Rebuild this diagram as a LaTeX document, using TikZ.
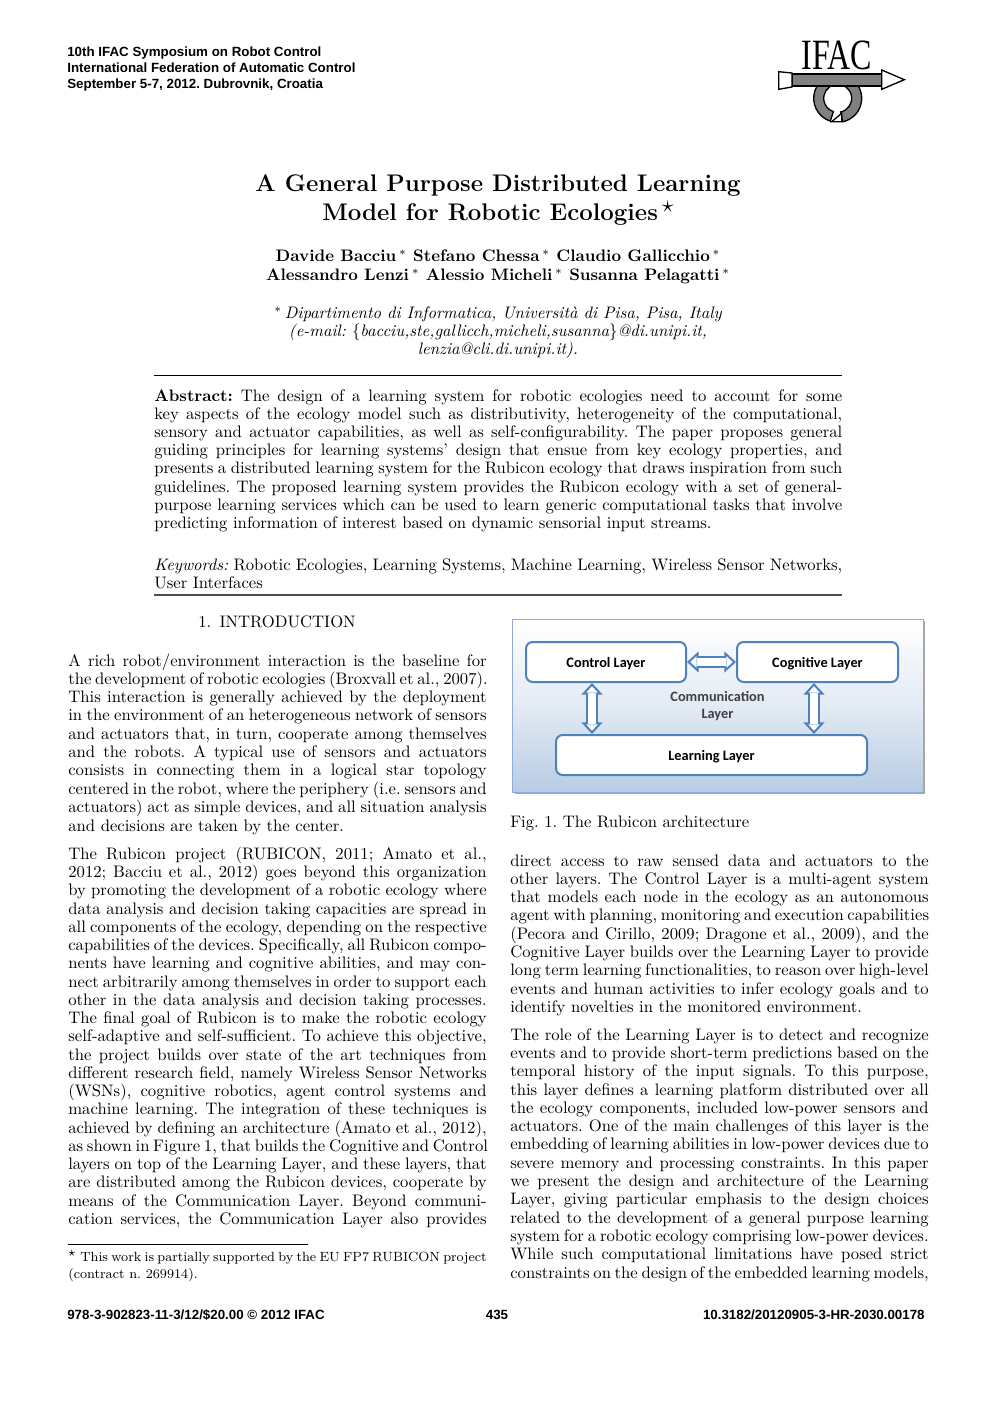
\documentclass[tikz,border=0pt]{standalone}
\usepackage{fontspec}
\usepackage{amsmath}
\usetikzlibrary{arrows.meta}
\usetikzlibrary{calc}
\newfontfamily\headfont{Liberation Sans}
\newfontfamily\figfont{Carlito}
\newfontfamily\logofont{Liberation Serif}
\definecolor{layerblue}{HTML}{4F81BD}
\definecolor{panelblue}{HTML}{B8CCE4}
\definecolor{panelline}{HTML}{8FAADC}
\definecolor{commgray}{HTML}{404040}
\newlength{\colwidth}
\setlength{\colwidth}{251pt}
\newlength{\abswidth}
\setlength{\abswidth}{412.8pt}
\frenchspacing
\tikzset{
  textline/.style={anchor=base west, inner sep=0pt, font=\fontsize{10}{11}\selectfont},
  midline/.style={anchor=base, inner sep=0pt, align=center},
  headline/.style={anchor=base west, inner sep=0pt, font=\fontsize{8}{9}\selectfont\headfont\bfseries},
  layerbox/.style={draw=layerblue, line width=1.2pt, fill=white, rounded corners=4pt, inner sep=0pt,
    text height=6.2pt, text depth=0pt, font=\fontsize{8.6}{9}\selectfont\figfont\bfseries},
  layerlink/.style={draw=layerblue, line width=1.2pt, double=white, double distance=4.4pt,
    {Triangle[fill=white,line width=1.2pt,length=7pt,width=12.5pt]}-{Triangle[fill=white,line width=1.2pt,length=7pt,width=12.5pt]},
    postaction={draw=white, line width=4.4pt, -, shorten >=6pt, shorten <=6pt}},
  logoshape/.style={draw=black, line width=0.8pt}
}
\begin{document}
\begin{tikzpicture}[x=0.6pt,y=0.6pt]
  \useasboundingbox (0,0) rectangle (992,-1403);
  \fill[white] (0,0) rectangle (992,-1403);
  %Header
  \node[headline] (head1) at (67,-57) {10th IFAC Symposium on Robot Control};
  \node[headline] (head2) at (67,-73) {International Federation of Automatic Control};
  \node[headline] (head3) at (67,-89) {September 5-7, 2012. Dubrovnik, Croatia};
  %Logo
  \node[inner sep=0pt] (logotext) at (837,-55) {\logofont\fontsize{24}{24}\selectfont\scalebox{0.8}[1.08]{IFAC}};
  \coordinate (ringc) at (837.7,-98.3);
  \filldraw[logoshape, fill=gray] ($(ringc)+(-108:24)$) arc (-108:-438:24) -- ($(ringc)+(-78:14)$)
    arc (-438:-108:14) -- cycle;
  \filldraw[logoshape, fill=white] (831.7,-121.7) -- (841.7,-113.3) -- (841.7,-121.7) -- cycle;
  \filldraw[logoshape, fill=gray] (792,-74) rectangle (882,-86);
  \filldraw[logoshape, fill=white] (778.7,-71.7) -- (792,-73) -- (792,-87) -- (778.7,-89.3) -- cycle;
  \filldraw[logoshape, fill=white] (881.7,-70) -- (904.3,-79.7) -- (881.7,-89.3) -- cycle;
  %Title
  \node[midline] (title1) at (498,-192) {\fontsize{14.4}{16}\selectfont\bfseries A General Purpose Distributed Learning};
  \node[midline] (title2) at (498,-221) {\fontsize{14.4}{16}\selectfont\bfseries Model for Robotic Ecologies\,\smash{\raisebox{5pt}{$\star$}}};
  \node[midline] (auth1) at (498,-262) {\fontsize{10}{11}\selectfont\bfseries Davide Bacciu$\,^{*}$ Stefano Chessa$\,^{*}$ Claudio Gallicchio$\,^{*}$};
  \node[midline] (auth2) at (498,-281) {\fontsize{10}{11}\selectfont\bfseries Alessandro Lenzi$\,^{*}$ Alessio Micheli$\,^{*}$ Susanna Pelagatti$\,^{*}$};
  \node[midline] (affil1) at (498,-319) {\fontsize{10}{11}\selectfont$^{*}$\,\itshape Dipartimento di Informatica, Università di Pisa, Pisa, Italy};
  \node[midline] (affil2) at (498,-337) {\fontsize{10}{11}\selectfont\itshape (e-mail: $\{$bacciu,ste,gallicch,micheli,susanna$\}$@di.unipi.it,};
  \node[midline] (affil3) at (498,-355) {\fontsize{10}{11}\selectfont\itshape lenzia@cli.di.unipi.it).};
  %Abstract
  \draw[black, line width=0.6pt] (154,-375.5) -- (842,-375.5);
  \foreach \txt [count=\n from 0] in {
    {\textbf{Abstract:} The design of a learning system for robotic ecologies need to account for some},
    {key aspects of the ecology model such as distributivity, heterogeneity of the computational,},
    {sensory and actuator capabilities, as well as self-configurability. The paper proposes general},
    {guiding principles for learning systems' design that ensue from key ecology properties, and},
    {presents a distributed learning system for the Rubicon ecology that draws inspiration from such},
    {guidelines. The proposed learning system provides the Rubicon ecology with a set of general-},
    {purpose learning services which can be used to learn generic computational tasks that involve}}
    \node[textline] (abs\n) at (154,{-401-18.23*\n}) {\makebox[\abswidth][s]{\txt}};
  \node[textline] (abs7) at (154,-528.6) {predicting information of interest based on dynamic sensorial input streams.};
  \node[textline] (key0) at (154,-570) {\makebox[\abswidth][s]{\textit{Keywords:} Robotic Ecologies, Learning Systems, Machine Learning, Wireless Sensor Networks,}};
  \node[textline] (key1) at (154,-588) {User Interfaces};
  \draw[black!70, line width=1pt] (154,-595) -- (842,-595);
  %Left column
  \node[midline, font=\fontsize{10}{11}\selectfont] (sec1) at (277,-627) {1.\enspace INTRODUCTION};
  \foreach \txt [count=\n from 0] in {
    {A rich robot/environment interaction is the baseline for},
    {the development of robotic ecologies (Broxvall et al., 2007).},
    {This interaction is generally achieved by the deployment},
    {in the environment of an heterogeneous network of sensors},
    {and actuators that, in turn, cooperate among themselves},
    {and the robots. A typical use of sensors and actuators},
    {consists in connecting them in a logical star topology},
    {centered in the robot, where the periphery (i.e. sensors and},
    {actuators) act as simple devices, and all situation analysis}}
    \node[textline] (para\n) at (68,{-666-18.33*\n}) {\makebox[\colwidth][s]{\txt}};
  \node[textline] (para9) at (68,-831) {and decisions are taken by the center.};
  \foreach \txt [count=\n from 0] in {
    {The Rubicon project (RUBICON, 2011; Amato et al.,},
    {2012; Bacciu et al., 2012) goes beyond this organization},
    {by promoting the development of a robotic ecology where},
    {data analysis and decision taking capacities are spread in},
    {all components of the ecology, depending on the respective},
    {capabilities of the devices. Specifically, all Rubicon compo-},
    {nents have learning and cognitive abilities, and may con-},
    {nect arbitrarily among themselves in order to support each},
    {other in the data analysis and decision taking processes.},
    {The final goal of Rubicon is to make the robotic ecology},
    {self-adaptive and self-sufficient. To achieve this objective,},
    {the project builds over state of the art techniques from},
    {different research field, namely Wireless Sensor Networks},
    {(WSNs), cognitive robotics, agent control systems and},
    {machine learning. The integration of these techniques is},
    {achieved by defining an architecture (Amato et al., 2012),},
    {as shown in Figure 1, that builds the Cognitive and Control},
    {layers on top of the Learning Layer, and these layers, that},
    {are distributed among the Rubicon devices, cooperate by},
    {means of the Communication Layer. Beyond communi-},
    {cation services, the Communication Layer also provides}}
    \node[textline] (parb\n) at (68,{-859.3-18.25*\n}) {\makebox[\colwidth][s]{\txt}};
  %Footnote
  \draw[black, line width=0.5pt] (68,-1244.5) -- (308,-1244.5);
  \node[textline, font=\fontsize{8}{9}\selectfont] (foot0) at (68,-1261) {\makebox[\colwidth][s]{\raisebox{2.5pt}{$\star$}\hspace{3pt}This work is partially supported by the EU FP7 RUBICON project}};
  \node[textline, font=\fontsize{8}{9}\selectfont] (foot1) at (68,-1278.5) {(contract n. 269914).};
  %Figure
  \fill[gray!70] (514.5,-621) rectangle (924.5,-793.5);
  \draw[panelline, line width=0.6pt, top color=white, bottom color=panelblue, middle color=panelblue!40!white] (512.7,-619.5) rectangle (923,-792);
  \node[layerbox, minimum width=96pt, minimum height=24pt] (control) at (606,-662) {Control Layer};
  \node[layerbox, minimum width=96.6pt, minimum height=24pt] (cognitive) at (817.5,-662) {Cognitive Layer};
  \node[layerbox, minimum width=186.6pt, minimum height=24pt] (learning) at (711.5,-755) {Learning Layer};
  \node[inner sep=0pt, align=center, text=commgray, font=\fontsize{8.6}{10.2}\selectfont\figfont\bfseries] (comm) at (717.5,-706.5) {Communication\\Layer};
  \coordinate (linkL) at (592,-700);
  \coordinate (linkR) at (814,-700);
  \draw[layerlink] (control) -- (cognitive);
  \draw[layerlink] (linkL |- control.south) -- (linkL |- learning.north);
  \draw[layerlink] (linkR |- cognitive.south) -- (linkR |- learning.north);
  \node[textline] (caption) at (510,-827) {Fig. 1. The Rubicon architecture};
  %Right column
  \foreach \txt [count=\n from 0] in {
    {direct access to raw sensed data and actuators to the},
    {other layers. The Control Layer is a multi-agent system},
    {that models each node in the ecology as an autonomous},
    {agent with planning, monitoring and execution capabilities},
    {(Pecora and Cirillo, 2009; Dragone et al., 2009), and the},
    {Cognitive Layer builds over the Learning Layer to provide},
    {long term learning functionalities, to reason over high-level},
    {events and human activities to infer ecology goals and to}}
    \node[textline] (parc\n) at (510,{-866-18.3*\n}) {\makebox[\colwidth][s]{\txt}};
  \node[textline] (parc8) at (510,-1012.4) {identify novelties in the monitored environment.};
  \foreach \txt [count=\n from 0] in {
    {The role of the Learning Layer is to detect and recognize},
    {events and to provide short-term predictions based on the},
    {temporal history of the input signals. To this purpose,},
    {this layer defines a learning platform distributed over all},
    {the ecology components, included low-power sensors and},
    {actuators. One of the main challenges of this layer is the},
    {embedding of learning abilities in low-power devices due to},
    {severe memory and processing constraints. In this paper},
    {we present the design and architecture of the Learning},
    {Layer, giving particular emphasis to the design choices},
    {related to the development of a general purpose learning},
    {system for a robotic ecology comprising low-power devices.},
    {While such computational limitations have posed strict},
    {constraints on the design of the embedded learning models,}}
    \node[textline] (pard\n) at (510,{-1040-18.33*\n}) {\makebox[\colwidth][s]{\txt}};
  %Footer
  \node[headline] (foot2) at (67,-1319) {978-3-902823-11-3/12/\$20.00 © 2012 IFAC};
  \node[headline, anchor=base] (pagenum) at (497,-1319) {435};
  \node[headline, anchor=base east] (doi) at (925,-1319) {10.3182/20120905-3-HR-2030.00178};
\end{tikzpicture}
\end{document}
